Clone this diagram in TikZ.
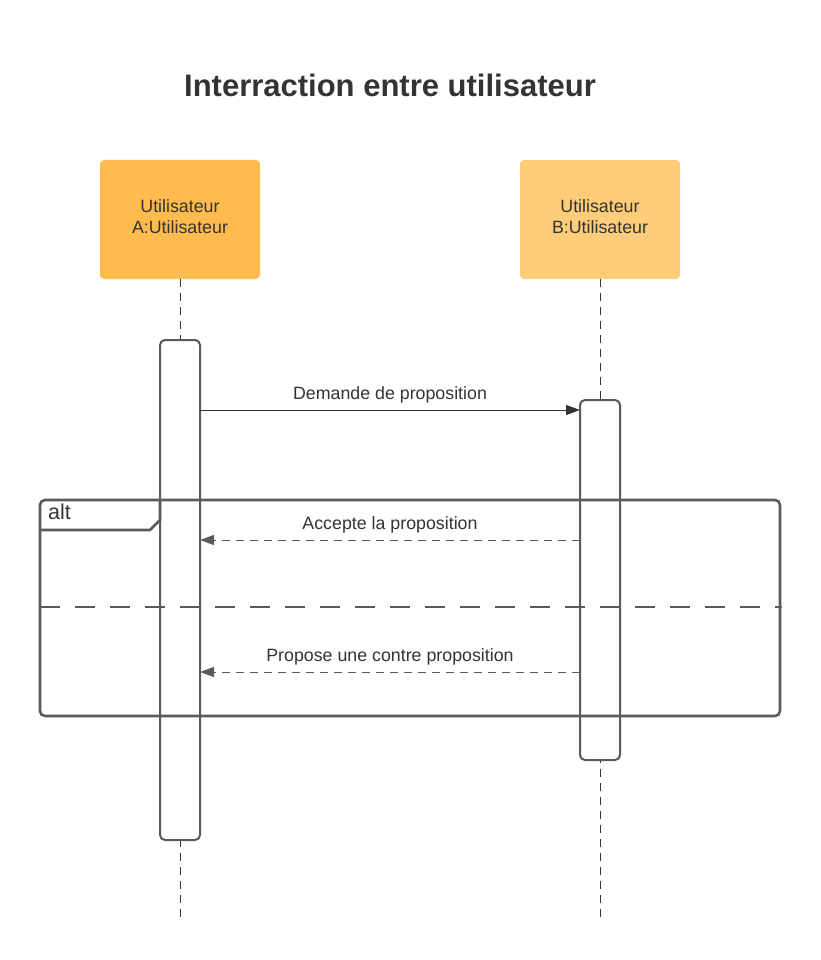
\documentclass[tikz,border=0pt]{standalone}
\usepackage{fontspec}
\setmainfont{Liberation Sans}
\usetikzlibrary{arrows.meta}
\definecolor{orangeA}{HTML}{FFBB4D}
\definecolor{orangeB}{HTML}{FFCC7A}
\definecolor{txt}{HTML}{333333}
\definecolor{frame}{HTML}{5A5A5A}
\tikzset{
  head/.style={rounded corners=4pt, draw=none, minimum width=160pt, minimum height=119pt, inner sep=0pt, align=center, text=txt, font=\fontsize{17.8}{21}\selectfont},
  lifeline/.style={draw=txt, line width=0.9pt, dash pattern=on 8pt off 6pt},
  actbar/.style={draw=frame, fill=white, line width=2pt, rounded corners=5pt},
  msg/.style={draw=txt, line width=0.9pt, -{Triangle[length=14pt,width=10pt]}},
  reply/.style={draw=frame, line width=1pt, dash pattern=on 8pt off 6pt, -{Triangle[length=14pt,width=10pt]}},
  lbl/.style={text=txt, font=\fontsize{17.8}{20}\selectfont, inner sep=0pt},
  altframe/.style={draw=frame, line width=2.6pt, rounded corners=5pt},
}
\begin{document}
\begin{tikzpicture}[x=1pt,y=-1pt]
\useasboundingbox (0,0) rectangle (820,960);
\node[text=txt, font=\bfseries\fontsize{31}{36}\selectfont] (title) at (390,85) {Interraction entre utilisateur};
\path[head, fill=orangeA] (100,160) rectangle (260,279);
\path[head, fill=orangeB] (520,160) rectangle (680,279);
\node[head, fill=none, text=txt] (ua) at (180,216.5) {Utilisateur\\A:Utilisateur};
\node[head, fill=none, text=txt] (ub) at (600,216.5) {Utilisateur\\B:Utilisateur};
\coordinate (atop) at (180,279);
\coordinate (btop) at (600,279);
\coordinate (aend) at (180,920);
\coordinate (bend) at (600,920);
\draw[lifeline] (atop) -- (aend);
\draw[lifeline] (btop) -- (bend);
% activation bars
\draw[actbar] (160,340) rectangle (200,840);
\draw[actbar] (580,400) rectangle (620,760);
\coordinate (a1) at (200,410); \coordinate (b1) at (580,410);
\coordinate (a2) at (200,540); \coordinate (b2) at (580,540);
\coordinate (a3) at (200,672); \coordinate (b3) at (580,672);
\draw[msg] (a1) -- (b1) node[lbl, midway, above=6pt] (m1) {Demande de proposition};
\draw[reply] (b2) -- (a2) node[lbl, midway, above=6pt] (m2) {Accepte la proposition};
\draw[reply] (b3) -- (a3) node[lbl, midway, above=6pt] (m3) {Propose une contre proposition};
% alt frame
\draw[altframe] (40,500) rectangle (780,716);
\draw[draw=frame, line width=2.6pt] (40,530) -- (150,530) -- (160,520) -- (160,500);
\node[lbl, anchor=west, font=\fontsize{21.5}{24}\selectfont] (alt) at (48,512) {alt};
\draw[draw=frame, line width=2.6pt, dash pattern=on 20pt off 15pt] (40,607) -- (782,607);
\end{tikzpicture}
\end{document}
